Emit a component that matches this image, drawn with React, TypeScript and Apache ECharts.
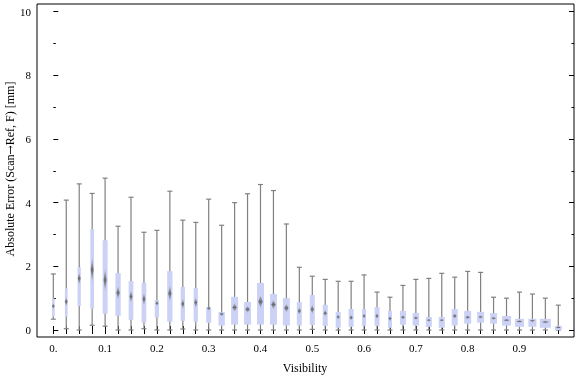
import React, { useEffect, useRef } from 'react';
import * as echarts from 'echarts';

// Visibility bins (box positions)
const visibility = [
  0, 0.025, 0.05, 0.075, 0.1, 0.125, 0.15, 0.175, 0.2, 0.225,
  0.25, 0.275, 0.3, 0.325, 0.35, 0.375, 0.4, 0.425, 0.45, 0.475,
  0.5, 0.525, 0.55, 0.575, 0.6, 0.625, 0.65, 0.675, 0.7, 0.725,
  0.75, 0.775, 0.8, 0.825, 0.85, 0.875, 0.9, 0.925, 0.95, 0.975,
];

const whiskerLow = [
  0.34, 0.04, 0.0, 0.15, 0.12, 0.0, 0.0, 0.04, 0.0, 0.0,
  0.03, 0.0, 0.0, 0.0, 0.0, 0.0, 0.0, 0.0, 0.0, 0.0,
  0.02, 0.0, 0.0, 0.0, 0.0, 0.0, 0.0, 0.0, 0.0, 0.0,
  0.0, 0.0, 0.0, 0.0, 0.0, 0.0, 0.0, 0.0, 0.0, 0.0,
];

const quartile1 = [
  0.42, 0.42, 0.75, 0.67, 0.51, 0.45, 0.32, 0.23, 0.39, 0.26,
  0.29, 0.26, 0.23, 0.14, 0.17, 0.17, 0.17, 0.17, 0.14, 0.14,
  0.16, 0.13, 0.07, 0.1, 0.13, 0.13, 0.07, 0.17, 0.14, 0.1,
  0.07, 0.14, 0.2, 0.23, 0.2, 0.14, 0.1, 0.1, 0.07, 0.0,
];

const medians = [
  0.75, 0.89, 1.62, 1.89, 1.57, 1.17, 1.05, 0.97, 0.84, 1.15,
  0.82, 0.86, 0.68, 0.5, 0.71, 0.65, 0.89, 0.8, 0.69, 0.6,
  0.65, 0.53, 0.41, 0.39, 0.44, 0.44, 0.36, 0.4, 0.38, 0.31,
  0.31, 0.44, 0.4, 0.41, 0.37, 0.31, 0.27, 0.29, 0.25, 0.08,
];

const quartile3 = [
  0.99, 1.31, 1.97, 3.17, 2.82, 1.79, 1.54, 1.48, 0.94, 1.85,
  1.35, 1.32, 0.72, 0.57, 1.04, 0.88, 1.48, 1.13, 1.0, 0.88,
  1.1, 0.79, 0.57, 0.66, 0.66, 0.72, 0.6, 0.6, 0.53, 0.41,
  0.41, 0.66, 0.6, 0.57, 0.53, 0.44, 0.35, 0.35, 0.35, 0.13,
];

const whiskerHigh = [
  1.76, 4.08, 4.59, 4.29, 4.77, 3.26, 4.17, 3.07, 3.13, 4.36,
  3.45, 3.38, 4.11, 3.29, 4.0, 4.28, 4.57, 4.38, 3.33, 1.97,
  1.69, 1.59, 1.53, 1.53, 1.73, 1.19, 1.03, 1.4, 1.59, 1.62,
  1.78, 1.66, 1.84, 1.81, 1.03, 1.0, 1.19, 1.13, 1.0, 0.78,
];

// relative box widths (varying per bin in the picture)
const boxWeight = [
  2.7, 2.7, 3.3, 3.7, 5, 5.3, 4.7, 4.7, 4.3, 5.3,
  4.3, 4.3, 5, 6.3, 7, 7, 7, 7, 7, 5,
  5, 5, 5, 5, 4, 5, 4, 6, 6.5, 6,
  6, 6, 7, 7, 7, 9, 9, 8, 11, 7,
];

const xLabelValues = [0, 0.1, 0.2, 0.3, 0.4, 0.5, 0.6, 0.7, 0.8, 0.9];
const yMajorTicks = [0, 2, 4, 6, 8, 10];
const yMinorTicks = [1, 3, 5, 7, 9];

const X_MIN = -0.0315;
const X_MAX = 1.0053;
const Y_MIN = -0.22;
const Y_MAX = 10.241;

const FONT = '"Liberation Serif", "Times New Roman", Times, serif';

export default function App() {
  const ref = useRef<HTMLDivElement>(null);

  useEffect(() => {
    document.body.style.margin = '0';
    const chart = echarts.init(ref.current as HTMLDivElement, null, { renderer: 'svg' });

    const data = visibility.map((v, i) => [
      v, whiskerLow[i], quartile1[i], medians[i], quartile3[i], whiskerHigh[i], boxWeight[i],
    ]);

    const xAxisBase = {
      type: 'value',
      min: X_MIN,
      max: X_MAX,
      splitLine: { show: false },
      axisLine: { show: false },
    };
    const yAxisBase = {
      type: 'value',
      min: Y_MIN,
      max: Y_MAX,
      splitLine: { show: false },
      axisLine: { show: false },
    };
    const tickStyle = { color: '#000', width: 1 };

    const option: any = {
      animation: false,
      grid: {
        left: 37,
        top: 4,
        right: 2,
        bottom: 40,
        show: true,
        borderColor: '#000',
        borderWidth: 1,
        backgroundColor: 'transparent',
      },
      xAxis: [
        {
          ...xAxisBase,
          position: 'bottom',
          axisTick: { show: true, inside: true, length: 4, customValues: visibility, lineStyle: tickStyle },
          axisLabel: {
            show: true,
            customValues: xLabelValues,
            margin: 5,
            color: '#000',
            fontFamily: FONT,
            fontSize: 11,
            formatter: (v: number) => (Math.abs(v) < 1e-9 ? '0.' : String(+v.toFixed(1))),
          },
        },
        {
          ...xAxisBase,
          position: 'top',
          axisTick: { show: true, inside: true, length: 4, customValues: visibility, lineStyle: tickStyle },
          axisLabel: { show: false },
        },
      ],
      yAxis: [
        {
          ...yAxisBase,
          position: 'left',
          axisTick: { show: true, inside: true, length: 5, customValues: yMajorTicks, lineStyle: tickStyle },
          axisLabel: {
            show: true,
            customValues: yMajorTicks,
            margin: 6,
            color: '#000',
            fontFamily: FONT,
            fontSize: 11,
          },
        },
        {
          ...yAxisBase,
          position: 'left',
          axisTick: { show: true, inside: true, length: 2.5, customValues: yMinorTicks, lineStyle: tickStyle },
          axisLabel: { show: false },
        },
        {
          ...yAxisBase,
          position: 'right',
          axisTick: { show: true, inside: true, length: 5, customValues: yMajorTicks, lineStyle: tickStyle },
          axisLabel: { show: false },
        },
        {
          ...yAxisBase,
          position: 'right',
          axisTick: { show: true, inside: true, length: 2.5, customValues: yMinorTicks, lineStyle: tickStyle },
          axisLabel: { show: false },
        },
      ],
      graphic: [
        {
          type: 'text',
          x: 305,
          y: 368,
          style: {
            text: 'Visibility',
            fontFamily: FONT,
            fontSize: 12,
            fill: '#000',
            align: 'center',
            verticalAlign: 'middle',
          },
        },
        {
          type: 'text',
          x: 10,
          y: 169,
          rotation: Math.PI / 2,
          style: {
            text: '{a|Absolute Error (Scan}{b|\u2192}{a|Ref, F) [mm]}',
            align: 'center',
            verticalAlign: 'middle',
            rich: {
              a: { fontFamily: FONT, fontSize: 12, fill: '#000' },
              b: { fontFamily: '"DejaVu Serif", "DejaVu Sans", serif', fontSize: 11, fill: '#000' },
            },
          },
        },
      ],
      series: [
        {
          type: 'custom',
          xAxisIndex: 0,
          yAxisIndex: 0,
          encode: { x: 0, y: [1, 2, 3, 4, 5] },
          data,
          renderItem: (params: any, api: any) => {
            const x = api.value(0);
            const lo = api.coord([x, api.value(1)]);
            const b1 = api.coord([x, api.value(2)]);
            const md = api.coord([x, api.value(3)]);
            const b3 = api.coord([x, api.value(4)]);
            const hi = api.coord([x, api.value(5)]);
            const w = api.value(6);
            const cx = lo[0];
            const iqrPx = b1[1] - b3[1];
            const hh = Math.max(1.4, iqrPx * 0.16);
            const hw = Math.max(1.4, w * 0.3);
            const whisker = { stroke: '#808080', lineWidth: 1.2 };
            return {
              type: 'group',
              children: [
                { type: 'line', shape: { x1: cx, y1: lo[1], x2: cx, y2: hi[1] }, style: whisker },
                { type: 'line', shape: { x1: cx - 2.5, y1: lo[1], x2: cx + 2.5, y2: lo[1] }, style: whisker },
                { type: 'line', shape: { x1: cx - 2.5, y1: hi[1], x2: cx + 2.5, y2: hi[1] }, style: whisker },
                {
                  type: 'rect',
                  shape: { x: cx - w / 2, y: b3[1], width: w, height: Math.max(iqrPx, 0.5) },
                  style: { fill: '#cbd2f5' },
                },
                {
                  type: 'polygon',
                  shape: {
                    points: [
                      [cx, md[1] - hh],
                      [cx + hw, md[1]],
                      [cx, md[1] + hh],
                      [cx - hw, md[1]],
                    ],
                  },
                  style: {
                    fill: new echarts.graphic.LinearGradient(0, 0, 0, 1, [
                      { offset: 0, color: 'rgba(110,110,110,0.15)' },
                      { offset: 0.5, color: 'rgba(95,95,95,0.9)' },
                      { offset: 1, color: 'rgba(110,110,110,0.15)' },
                    ]),
                  },
                },
              ],
            };
          },
        },
      ],
    };

    chart.setOption(option);
    return () => {
      chart.dispose();
    };
  }, []);

  return (
    <div
      ref={ref}
      style={{ position: 'fixed', left: 0, top: 0, width: 576, height: 377 }}
    />
  );
}
